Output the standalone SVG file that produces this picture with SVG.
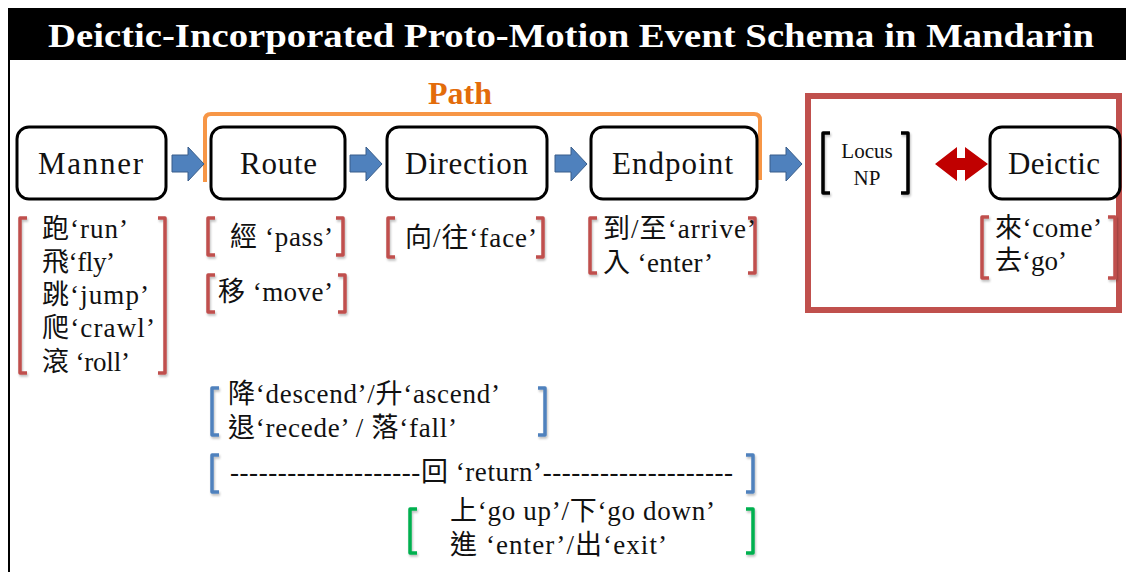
<svg xmlns="http://www.w3.org/2000/svg" width="1126" height="572" viewBox="0 0 1126 572">
<style>
.box{fill:#fff;stroke:#000;stroke-width:3}
.nt{font-family:"Liberation Serif",serif;font-size:31px;fill:#111}
.lt{font-family:"Liberation Serif","Noto Sans CJK TC",serif;font-size:27px;fill:#111}
.br{fill:none;stroke-width:3.5;stroke-linecap:butt;stroke-linejoin:round}
.red{stroke:#C0504D}
.blue{stroke:#4F81BD}
.green{stroke:#00B050}
.blk{stroke:#000}
.barrow{fill:#4F81BD;stroke:#385D8A;stroke-width:1}
</style>
<defs>
<filter id="sh" x="-20%" y="-20%" width="140%" height="140%">
<feDropShadow dx="1" dy="2" stdDeviation="1.2" flood-color="#000" flood-opacity="0.25"/>
</filter>
</defs>
<rect width="1126" height="572" fill="#fff"/>
<g id="title">
<rect x="8" y="8" width="1118" height="52" fill="#000"/>
<text x="48" y="47" font-family="Liberation Serif, serif" font-weight="bold" font-size="34" fill="#fff" textLength="1046" lengthAdjust="spacingAndGlyphs">Deictic-Incorporated Proto-Motion Event Schema in Mandarin</text>
<line x1="9" y1="60" x2="9" y2="572" stroke="#000" stroke-width="2"/>
</g>
<g id="path-label">
<path d="M205,182 V120 Q205,114 211,114 H754 Q760,114 760,120 V180" fill="none" stroke="#F79646" stroke-width="4"/>
<text x="460" y="104" font-family="Liberation Serif, serif" font-weight="bold" font-size="32" fill="#E36C0A" text-anchor="middle">Path</text>
</g>
<g id="deictic-frame">
<rect x="808" y="96" width="311" height="214" fill="none" stroke="#C0504D" stroke-width="6"/>
</g>
<g id="connectors">
<polygon class="barrow" points="172,155 188,155 188,147 204,164 188,181 188,172 172,172"/>
<polygon class="barrow" points="350,155 366,155 366,147 382,164 366,181 366,172 350,172"/>
<polygon class="barrow" points="555,155 571,155 571,147 587,164 571,181 571,172 555,172"/>
<polygon class="barrow" points="770,155 786,155 786,147 802,164 786,181 786,172 770,172"/>
<polygon fill="#C00000" points="935,164 957,147 957,158 965,158 965,147 988,164 965,181 965,170 957,170 957,181"/>
</g>
<g id="manner">
<rect class="box" x="17" y="127" width="149" height="72" rx="12"/>
<text class="nt" x="38" y="174" textLength="105">Manner</text>
</g>
<g id="route">
<rect class="box" x="211" y="127" width="134" height="72" rx="12"/>
<text class="nt" x="240" y="174" textLength="77">Route</text>
</g>
<g id="direction">
<rect class="box" x="387" y="127" width="160" height="72" rx="12"/>
<text class="nt" x="405" y="174" textLength="123">Direction</text>
</g>
<g id="endpoint">
<rect class="box" x="591" y="127" width="166" height="72" rx="12"/>
<text class="nt" x="612" y="174" textLength="121">Endpoint</text>
</g>
<g id="deictic">
<rect class="box" x="990" y="127" width="130" height="72" rx="12"/>
<text class="nt" x="1008" y="174" textLength="92">Deictic</text>
</g>
<g id="locus-np">
<path class="br blk" d="M830,133 H823 V193 H830 M901,133 H908 V193 H901" filter="url(#sh)"/>
<text x="867" y="158" font-family="Liberation Serif, serif" font-size="21" fill="#111" text-anchor="middle">Locus</text>
<text x="867" y="185" font-family="Liberation Serif, serif" font-size="21" fill="#111" text-anchor="middle">NP</text>
</g>
<g id="manner-list">
<path class="br red" d="M27,218 H20 V373 H27 M158,218 H165 V373 H158" filter="url(#sh)"/>
<text class="lt" x="42" y="238" textLength="86">跑‘run’</text>
<text class="lt" x="42" y="271" textLength="73">飛‘fly’</text>
<text class="lt" x="42" y="304" textLength="107">跳‘jump’</text>
<text class="lt" x="42" y="337" textLength="113">爬‘crawl’</text>
<text class="lt" x="42" y="371" textLength="88">滾 ‘roll’</text>
</g>
<g id="route-list">
<path class="br red" d="M215,218 H208 V255 H215 M336,218 H343 V255 H336" filter="url(#sh)"/>
<text class="lt" x="230" y="246" textLength="103">經 ‘pass’</text>
<path class="br red" d="M215,275 H208 V312 H215 M338,275 H345 V312 H338" filter="url(#sh)"/>
<text class="lt" x="218" y="301" textLength="115">移 ‘move’</text>
</g>
<g id="direction-list">
<path class="br red" d="M395,218 H388 V257 H395 M536,218 H543 V257 H536" filter="url(#sh)"/>
<text class="lt" x="405" y="247" textLength="132">向/往‘face’</text>
</g>
<g id="endpoint-list">
<path class="br red" d="M597,218 H590 V273 H597 M748,218 H755 V273 H748" filter="url(#sh)"/>
<text class="lt" x="603" y="238" textLength="153">到/至‘arrive’</text>
<text class="lt" x="603" y="272" textLength="110">入 ‘enter’</text>
</g>
<g id="deictic-list">
<path class="br red" d="M989,217 H982 V278 H989 M1108,217 H1115 V278 H1108" filter="url(#sh)"/>
<text class="lt" x="995" y="237" textLength="107">來‘come’</text>
<text class="lt" x="995" y="270" textLength="72">去‘go’</text>
</g>
<g id="route-direction-list">
<path class="br blue" d="M219,388 H212 V435 H219 M538,388 H545 V435 H538" filter="url(#sh)"/>
<text class="lt" x="228" y="403" textLength="272">降‘descend’/升‘ascend’</text>
<text class="lt" x="228" y="437" textLength="229">退‘recede’ / 落‘fall’</text>
</g>
<g id="return-list">
<path class="br blue" d="M219,455 H212 V492 H219 M746,455 H753 V492 H746" filter="url(#sh)"/>
<text class="lt" x="230" y="481" textLength="503">--------------------回 ‘return’--------------------</text>
</g>
<g id="direction-endpoint-list">
<path class="br green" d="M417,509 H410 V553 H417 M746,509 H753 V553 H746" filter="url(#sh)"/>
<text class="lt" x="450" y="520" textLength="265">上‘go up’/下‘go down’</text>
<text class="lt" x="450" y="554" textLength="217">進 ‘enter’/出‘exit’</text>
</g>
</svg>
